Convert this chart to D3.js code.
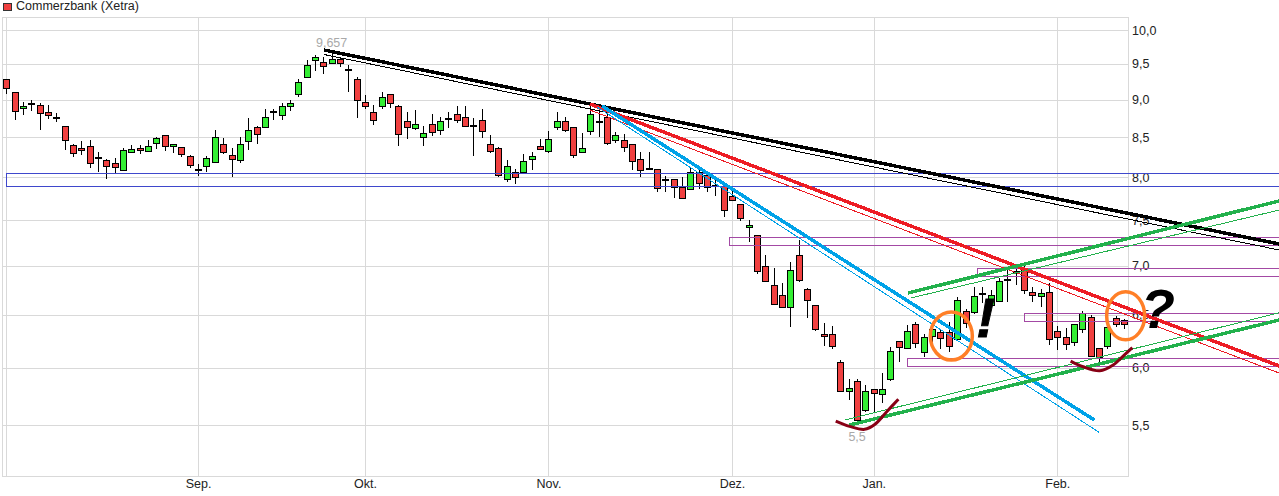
<!DOCTYPE html>
<html>
<head>
<meta charset="utf-8">
<title>Commerzbank (Xetra)</title>
<script src="https://cdnjs.cloudflare.com/ajax/libs/d3/7.8.5/d3.min.js"></script>
<style>
  html, body { margin: 0; padding: 0; background: #fff; }
  svg { display: block; }
  text { font-family: "Liberation Sans", Arial, sans-serif; }
  .grid line { stroke: #d9d9d9; stroke-width: 1px; }
  .grid path { display: none; }
  .achse path, .achse line { display: none; }
  .achse text { font-size: 12.5px; fill: #222; font-family: "Liberation Sans", Arial, sans-serif; }
  .docht { stroke: #000; stroke-width: 1px; shape-rendering: crispEdges; }
  .koerper { stroke: #000; stroke-width: 1px; shape-rendering: crispEdges; }
  .zone { fill: none; stroke-width: 1px; shape-rendering: crispEdges; }
  .trend { fill: none; shape-rendering: crispEdges; }
  .marke { font-size: 12.5px; fill: #a9a9a9; text-anchor: middle; }
</style>
</head>
<body>
<div id="Diagramm"></div>
<script>
// daily prices, one column per trading day
var opens = [
  9.29,9.10,8.88,8.95,8.93,8.83,8.77,8.65,8.40,8.36,
  8.39,8.25,8.21,8.18,8.09,8.31,8.36,8.33,8.43,8.53,
  8.39,8.38,8.26,8.10,8.14,8.19,8.41,8.28,8.21,8.45,
  8.64,8.64,8.84,8.79,8.92,9.07,9.31,9.56,9.53,9.52,
  9.57,9.43,9.29,8.97,8.83,8.92,9.08,8.92,8.71,8.62,
  8.50,8.68,8.60,8.75,8.80,8.76,8.66,8.72,8.42,8.37,
  7.98,8.07,8.07,8.23,8.39,8.33,8.64,8.71,8.64,8.31,
  8.58,8.71,8.77,8.46,8.47,8.41,8.23,8.12,8.10,7.98,
  7.98,7.88,7.86,8.06,8.03,7.91,7.90,7.78,7.69,7.42,
  7.33,7.00,6.80,6.70,6.58,7.11,6.76,6.60,6.31,6.31,
  6.05,5.79,5.88,5.63,5.81,5.76,5.90,6.25,6.18,6.41,
  6.14,6.29,6.33,6.33,6.26,6.54,6.53,6.72,6.60,6.64,
  6.86,6.94,6.97,6.73,6.69,6.73,6.34,6.28,6.24,6.36,
  6.48,6.18,6.20,6.47,6.45
];
var closes = [
  9.16,8.84,8.91,8.95,8.82,8.79,8.77,8.46,8.30,8.34,
  8.18,8.25,8.14,8.13,8.34,8.35,8.34,8.39,8.49,8.39,
  8.41,8.29,8.15,8.10,8.24,8.50,8.31,8.23,8.41,8.60,
  8.55,8.76,8.84,8.91,8.95,9.25,9.49,9.60,9.47,9.57,
  9.51,9.43,8.99,8.91,8.73,9.04,8.96,8.54,8.64,8.68,
  8.56,8.57,8.71,8.75,8.73,8.65,8.66,8.58,8.33,8.03,
  8.14,8.00,8.20,8.27,8.35,8.48,8.71,8.60,8.28,8.37,
  8.81,8.71,8.43,8.53,8.38,8.20,8.09,8.12,7.87,7.98,
  7.88,7.76,8.06,7.93,7.88,7.91,7.61,7.73,7.52,7.44,
  6.94,6.84,6.61,6.58,6.95,6.85,6.65,6.36,6.29,6.20,
  5.79,5.82,5.54,5.79,5.77,5.81,6.15,6.19,6.34,6.23,
  6.28,6.36,6.27,6.20,6.65,6.42,6.69,6.72,6.70,6.84,
  6.86,6.94,6.75,6.70,6.72,6.26,6.28,6.22,6.41,6.52,
  6.11,6.10,6.38,6.41,6.41
];
var highs = [
  9.29,9.10,8.97,8.99,8.96,8.93,8.82,8.65,8.41,8.45,
  8.46,8.31,8.23,8.24,8.36,8.40,8.40,8.47,8.51,8.53,
  8.42,8.38,8.28,8.17,8.26,8.60,8.49,8.36,8.50,8.75,
  8.65,8.87,8.87,8.95,9.00,9.29,9.56,9.63,9.60,9.657,
  9.59,9.48,9.31,9.06,8.93,9.11,9.08,8.93,8.83,8.86,
  8.65,8.80,8.76,8.83,8.92,8.91,8.75,8.87,8.53,8.38,
  8.22,8.10,8.29,8.31,8.48,8.58,8.83,8.76,8.64,8.56,
  8.92,8.89,8.82,8.57,8.54,8.42,8.31,8.32,8.10,8.02,
  7.98,8.00,8.12,8.10,8.03,7.97,7.90,7.84,7.69,7.50,
  7.33,7.11,6.97,6.82,7.04,7.28,6.77,6.60,6.42,6.39,
  6.07,5.90,5.90,5.84,5.81,5.95,6.19,6.25,6.40,6.43,
  6.31,6.41,6.36,6.43,6.68,6.56,6.78,6.78,6.75,6.87,
  6.95,7.00,7.00,6.78,6.76,6.82,6.39,6.37,6.41,6.54,
  6.50,6.18,6.38,6.49,6.46
];
var lows = [
  9.07,8.72,8.79,8.85,8.60,8.74,8.70,8.34,8.25,8.28,
  8.11,8.07,7.98,8.05,8.08,8.31,8.29,8.31,8.35,8.33,
  8.30,8.25,8.12,8.02,8.07,8.19,8.29,8.00,8.18,8.34,
  8.41,8.64,8.72,8.72,8.84,9.04,9.31,9.40,9.36,9.50,
  9.46,9.10,8.75,8.87,8.66,8.87,8.89,8.39,8.48,8.60,
  8.39,8.52,8.53,8.62,8.69,8.65,8.27,8.49,8.30,8.00,
  7.94,7.92,8.07,8.09,8.35,8.30,8.60,8.57,8.24,8.30,
  8.53,8.50,8.40,8.43,8.32,8.09,8.00,8.12,7.82,7.82,
  7.76,7.75,7.86,7.86,7.82,7.78,7.53,7.73,7.49,7.25,
  6.91,6.84,6.60,6.58,6.38,6.83,6.47,6.34,6.20,6.17,
  5.78,5.71,5.50,5.61,5.60,5.69,5.88,6.05,6.18,6.18,
  6.10,6.17,6.17,6.14,6.25,6.37,6.51,6.62,6.57,6.63,
  6.63,6.80,6.71,6.63,6.58,6.21,6.16,6.16,6.20,6.32,
  6.11,6.05,6.17,6.38,6.36
];

var preisTicks = [10, 9.5, 9, 8.5, 8, 7.5, 7, 6.5, 6, 5.5];
var monatIndex = [23, 43, 65, 87, 104, 126];
var monatNamen = ["Sep.", "Okt.", "Nov.", "Dez.", "Jan.", "Feb."];

// drawn-in trend lines: day index and price at both ends
var trendTag0 = [38.09, 38.09, 69.98, 69.98, 71.42, 70.82, 108.1, 108.46, 101.1, 100.55];
var trendWert0 = [9.702, 9.636, 8.94, 8.859, 8.914, 8.90, 6.716, 6.666, 5.50, 5.542];
var trendTag1 = [152.6, 152.6, 152.6, 152.6, 130.44, 131, 152.6, 152.6, 152.6, 152.6];
var trendWert1 = [7.233, 7.168, 6.014, 5.95, 5.542, 5.44, 7.72, 7.615, 6.447, 6.518];

// resistance / support zones: first day and price band
var zoneTag = [0, 86.7, 116.4, 122.05, 108];
var zoneOben = [8.05, 7.31, 6.98, 6.513, 6.084];
var zoneUnten = [7.895, 7.22, 6.898, 6.435, 6.007];

// hand drawn marks
var kreisTag = [113.3, 134.2];
var kreisWert = [6.293, 6.489];
var bogen1Tag = [99.44, 101.1, 102.9, 104.15, 105.55, 106.95];
var bogen1Wert = [5.533, 5.489, 5.464, 5.506, 5.612, 5.718];
var bogen2Tag = [127.6, 129.1, 131.1, 132.7, 133.9, 135.0];
var bogen2Wert = [6.059, 6.007, 5.971, 6.023, 6.105, 6.183];

var breite = 1279, hoehe = 496;
var links = 2.5, rechts = 1128.5, oben = 17.5, unten = 476.5;

var tage = d3.range(opens.length);
var x = d3.scaleLinear().domain([0, 134]).range([6.3, 1124]);
var y = d3.scaleLog().domain([5.5, 10]).range([425, 30]);
var px = function (v) { return Math.round(v) + 0.5; };
var komma = function (v) { return v.toFixed(1).replace(".", ","); };

var svg = d3.select("#Diagramm").append("svg")
  .attr("width", breite)
  .attr("height", hoehe);

// legend
svg.append("rect").attr("x", 3.5).attr("y", 3.5).attr("width", 8).attr("height", 7)
  .attr("fill", "#f04040").attr("stroke", "#333");
svg.append("text").attr("x", 16).attr("y", 10).attr("font-size", 12.5).attr("fill", "#222")
  .text("Commerzbank (Xetra)");

// grid
var gridY = svg.append("g").attr("class", "grid")
  .attr("transform", "translate(" + rechts + ",0)")
  .call(d3.axisLeft(y).tickValues(preisTicks).tickSize(rechts - links).tickFormat(""));
gridY.selectAll("line").attr("shape-rendering", "crispEdges");
gridY.selectAll(".tick").attr("transform", function (d) { return "translate(0," + px(y(d)) + ")"; });

var gridX = svg.append("g").attr("class", "grid")
  .attr("transform", "translate(0," + unten + ")")
  .call(d3.axisTop(x).tickValues([0].concat(monatIndex)).tickSize(unten - oben).tickFormat(""));
gridX.selectAll("line").attr("shape-rendering", "crispEdges");
gridX.selectAll(".tick").attr("transform", function (d) { return "translate(" + px(x(d)) + ",0)"; });

svg.append("rect").attr("x", links).attr("y", oben)
  .attr("width", rechts - links).attr("height", unten - oben)
  .attr("fill", "none").attr("stroke", "#d9d9d9").attr("shape-rendering", "crispEdges");

// axes
var achseY = svg.append("g").attr("class", "achse")
  .attr("transform", "translate(" + rechts + ",0)")
  .call(d3.axisRight(y).tickValues(preisTicks).tickSize(0).tickPadding(3.5).tickFormat(komma));
achseY.selectAll("text").attr("font-size", null);

var achseX = svg.append("g").attr("class", "achse")
  .attr("transform", "translate(0," + unten + ")")
  .call(d3.axisBottom(x).tickValues(monatIndex).tickSize(0).tickPadding(3)
    .tickFormat(function (d, i) { return monatNamen[i]; }));

// candles
var kerzen = svg.append("g");
kerzen.selectAll(".docht").data(tage).enter().append("line")
  .attr("class", "docht")
  .attr("x1", function (d) { return px(x(d)); })
  .attr("x2", function (d) { return px(x(d)); })
  .attr("y1", function (d) { return Math.round(y(highs[d])); })
  .attr("y2", function (d) { return Math.round(y(lows[d])); });

kerzen.selectAll(".koerper").data(tage).enter().append("rect")
  .attr("class", "koerper")
  .attr("x", function (d) { return px(x(d)) - 3; })
  .attr("width", 6)
  .attr("y", function (d) { return px(y(Math.max(opens[d], closes[d]))); })
  .attr("height", function (d) {
    var h = Math.round(y(Math.min(opens[d], closes[d]))) - Math.round(y(Math.max(opens[d], closes[d])));
    return Math.max(h, 1);
  })
  .attr("fill", function (d) { return closes[d] >= opens[d] ? "#33ee33" : "#f04040"; });

// value marks
svg.append("text").attr("class", "marke").attr("x", x(39)).attr("y", y(highs[39]) - 6).text("9,657");
svg.append("text").attr("class", "marke").attr("x", x(102)).attr("y", y(lows[102]) + 16).text("5,5");

// zones run out past the right edge
var zoneFarben = ["#3f48cc", "#a349a4", "#a349a4", "#a349a4", "#a349a4"];
svg.append("g").selectAll("rect").data(zoneTag).enter().append("rect")
  .attr("class", "zone")
  .attr("x", function (d) { return px(x(d)); })
  .attr("y", function (d, i) { return px(y(zoneOben[i])); })
  .attr("width", function (d) { return breite + 10 - x(d); })
  .attr("height", function (d, i) { return Math.round(y(zoneUnten[i]) - y(zoneOben[i])); })
  .attr("stroke", function (d, i) { return zoneFarben[i]; });

// trend lines
var trendFarben = ["#000", "#000", "#ed1c24", "#ed1c24", "#00a2e8", "#00a2e8", "#22b14c", "#22b14c", "#22b14c", "#22b14c"];
var trendStaerke = [3.5, 1, 3.5, 1, 3.5, 1, 3.5, 1, 3.5, 1];
svg.append("g").selectAll("line").data(trendTag0).enter().append("line")
  .attr("class", "trend")
  .attr("x1", function (d) { return x(d); })
  .attr("y1", function (d, i) { return y(trendWert0[i]); })
  .attr("x2", function (d, i) { return x(trendTag1[i]); })
  .attr("y2", function (d, i) { return y(trendWert1[i]); })
  .attr("stroke", function (d, i) { return trendFarben[i]; })
  .attr("stroke-width", function (d, i) { return trendStaerke[i]; });

// orange circles
svg.append("g").selectAll("ellipse").data(kreisTag).enter().append("ellipse")
  .attr("cx", function (d) { return x(d); })
  .attr("cy", function (d, i) { return y(kreisWert[i]); })
  .attr("rx", function (d, i) { return i == 0 ? 21 : 19; })
  .attr("ry", 24)
  .attr("fill", "none")
  .attr("stroke", "#ff7f27")
  .attr("stroke-width", 3.5);

// dark red arcs under the lows
var bogen = d3.line().curve(d3.curveCatmullRom)
  .x(function (d) { return x(d[0]); })
  .y(function (d) { return y(d[1]); });
svg.append("path").attr("fill", "none").attr("stroke", "#880015").attr("stroke-width", 3)
  .attr("d", bogen(d3.zip(bogen1Tag, bogen1Wert)));
svg.append("path").attr("fill", "none").attr("stroke", "#880015").attr("stroke-width", 3)
  .attr("d", bogen(d3.zip(bogen2Tag, bogen2Wert)));

// ! and ?
svg.append("text").attr("x", x(117.4)).attr("y", y(6.283)).attr("font-size", 56)
  .attr("font-weight", "bold").attr("font-style", "italic").attr("fill", "#000")
  .attr("stroke", "#000").attr("stroke-width", 1)
  .attr("text-anchor", "middle").text("!");
svg.append("text").attr("x", x(138.05)).attr("y", y(6.37)).attr("font-size", 56)
  .attr("font-weight", "bold").attr("font-style", "italic").attr("fill", "#000")
  .attr("text-anchor", "middle").text("?");
</script>
</body>
</html>
